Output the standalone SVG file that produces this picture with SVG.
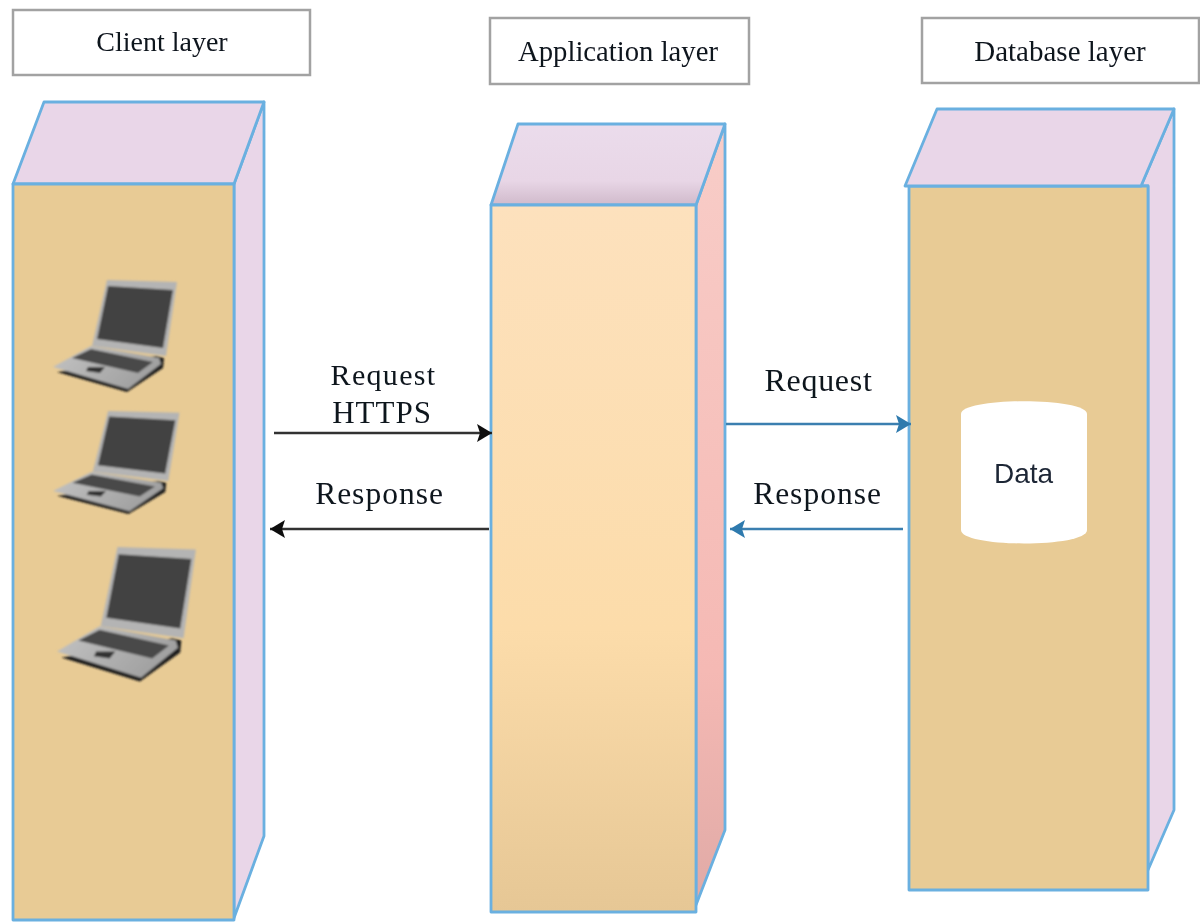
<svg xmlns="http://www.w3.org/2000/svg" width="1200" height="922" viewBox="0 0 1200 922">
<style>
.lbl{fill:#fff;stroke:#a2a2a2;stroke-width:2.5}
.t{font-family:"Liberation Serif","Times New Roman",serif;fill:#10151f;text-anchor:middle}
.s{font-family:"Liberation Sans",Arial,sans-serif;fill:#1e2636;text-anchor:middle}
.e{stroke:#6ab0e0;stroke-width:2.8;stroke-linejoin:round}
.lilac{fill:#e9d6e8}
.tan{fill:#e8cb95}
.blk{stroke:#333;stroke-width:2.6;fill:none}
.blu{stroke:#3a7fb0;stroke-width:2.6;fill:none}
.sb{filter:url(#soft2)}
</style>
<defs>
<filter id="soft" x="-5%" y="-5%" width="110%" height="110%"><feGaussianBlur stdDeviation="0.9"/></filter>
<filter id="soft2" filterUnits="userSpaceOnUse" x="0" y="0" width="1200" height="922"><feGaussianBlur stdDeviation="0.5"/></filter>
<linearGradient id="appFront" x1="0" y1="0" x2="0" y2="1"><stop offset="0" stop-color="#fde1bd"/><stop offset="0.6" stop-color="#fcdcaa"/><stop offset="1" stop-color="#e6c795"/></linearGradient>
<linearGradient id="appSide" x1="0" y1="0" x2="0" y2="1"><stop offset="0" stop-color="#f8cdc8"/><stop offset="0.7" stop-color="#f5b9b4"/><stop offset="1" stop-color="#e0aaa6"/></linearGradient>
<linearGradient id="appTop" x1="0" y1="0" x2="0" y2="1"><stop offset="0" stop-color="#ebdcec"/><stop offset="0.7" stop-color="#e8d6e6"/><stop offset="1" stop-color="#d0bacb"/></linearGradient>
<linearGradient id="lapBase" x1="0" y1="0" x2="1" y2="0.4"><stop offset="0" stop-color="#c4c4c4"/><stop offset="1" stop-color="#a0a0a0"/></linearGradient>
<marker id="ab" markerWidth="16" markerHeight="18" refX="15" refY="9" orient="auto" markerUnits="userSpaceOnUse"><path d="M0,0 L15,9 L0,18 L3,9 Z" fill="#111"/></marker>
<marker id="au" markerWidth="16" markerHeight="18" refX="15" refY="9" orient="auto" markerUnits="userSpaceOnUse"><path d="M0,0 L15,9 L0,18 L3,9 Z" fill="#2f7aae"/></marker>
<g id="laptop" filter="url(#soft)">
<path d="M4,92 L74,112 L110,88 L111,78 L103,76 Z" fill="#1e1e1e"/>
<path d="M0,87 L38,66 L106,78 L108,84 L75,109 Z" fill="url(#lapBase)"/>
<path d="M19,78 L38,69 L100,82 L85,93 Z" fill="#4a4a4a"/>
<path d="M35,87 L52,87 L47,93 L33,91 Z" fill="#333"/>
<path d="M54,0 L124,2 L113,76 L39,66 Z" fill="#b4b4b4"/>
<path d="M55,6 L120,10 L110,68 L44,59 Z" fill="#424242"/>
</g>
</defs>
<rect width="1200" height="922" fill="#fff"/>

<g id="client-label" class="sb"><rect class="lbl" x="13" y="10" width="297" height="65"/><text class="t" x="162" y="51" font-size="28">Client layer</text></g>
<g id="application-label" class="sb"><rect class="lbl" x="490" y="18" width="259" height="66"/><text class="t" x="618" y="61" font-size="28.7">Application layer</text></g>
<g id="database-label" class="sb"><rect class="lbl" x="922" y="18" width="277" height="65"/><text class="t" x="1060" y="61" font-size="29">Database layer</text></g>

<g id="client-layer" class="sb">
<path class="e lilac" d="M264,102 L264,836 L234,918 L234,184 Z"/>
<path class="e lilac" d="M13,184 L44,102 L264,102 L234,184 Z"/>
<rect class="e tan" x="13" y="184" width="221" height="736"/>
</g>
<g id="laptops">
<use href="#laptop" x="53" y="280"/>
<use href="#laptop" transform="translate(53,411) scale(1.02,0.92)"/>
<use href="#laptop" transform="translate(57,547) scale(1.12,1.2)"/>
</g>

<g id="application-layer" class="sb">
<path class="e" fill="url(#appSide)" d="M725,124 L725,830 L696,905 L696,205 Z"/>
<path class="e" fill="url(#appTop)" d="M491,205 L518,124 L725,124 L696,205 Z"/>
<rect class="e" fill="url(#appFront)" x="491" y="205" width="205" height="707"/>
</g>

<g id="database-layer" class="sb">
<path class="e lilac" d="M1141,186 L1174,109 L1174,810 L1148,870 L1148,186 Z"/>
<rect class="e tan" x="909" y="186" width="239" height="704"/>
<path class="e lilac" d="M905,186 L937,109 L1174,109 L1141,186 Z"/>
</g>

<g id="data" class="sb">
<path fill="#fff" d="M961,414 C961,397 1087,397 1087,414 L1087,530 C1087,548 961,548 961,530 Z"/>
<text class="s" x="1023.500" y="483" font-size="28">Data</text>
</g>

<g id="connectors" class="sb">
<line class="blk" x1="274" y1="433" x2="492" y2="433" marker-end="url(#ab)"/>
<line class="blk" x1="489" y1="529" x2="270" y2="529" marker-end="url(#ab)"/>
<line class="blu" x1="726" y1="424" x2="911" y2="424" marker-end="url(#au)"/>
<line class="blu" x1="903" y1="529" x2="730" y2="529" marker-end="url(#au)"/>
</g>

<g id="edge-labels" class="sb">
<text class="t" x="383.500" y="385" font-size="30" letter-spacing="1.3">Request</text>
<text class="t" x="382" y="423" font-size="31" letter-spacing="1">HTTPS</text>
<text class="t" x="379.500" y="504" font-size="31.500" letter-spacing="1">Response</text>
<text class="t" x="818.500" y="391" font-size="32" letter-spacing="0.700">Request</text>
<text class="t" x="817.500" y="504" font-size="31.500" letter-spacing="1">Response</text>
</g>
</svg>
